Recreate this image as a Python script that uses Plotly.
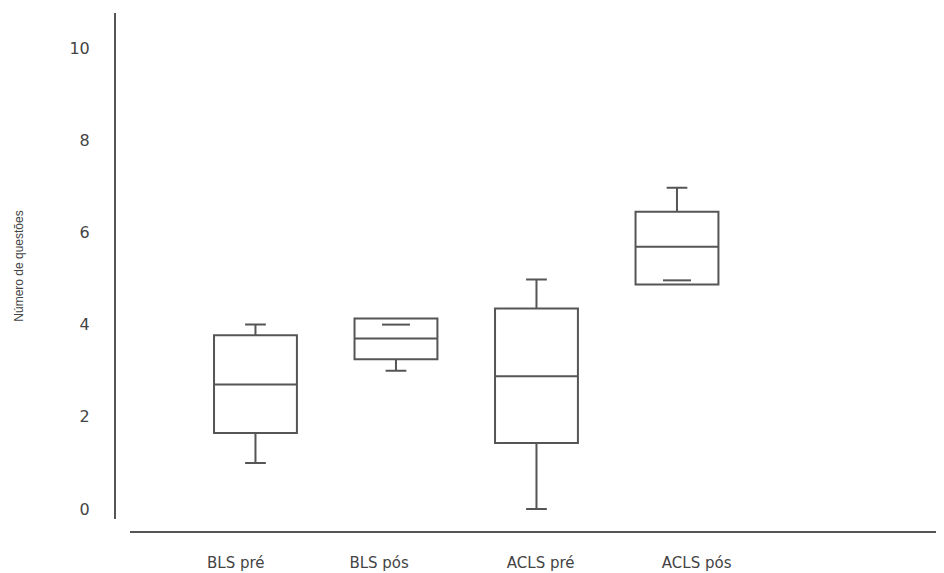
import plotly.graph_objects as go

categories = ["BLS pré", "BLS pós", "ACLS pré", "ACLS pós"]
q1 = [1.65, 3.25, 1.43, 4.87]
median = [2.7, 3.7, 2.88, 5.69]
q3 = [3.77, 4.13, 4.35, 6.45]
lowerfence = [1.0, 3.0, 0.0, 4.96]
upperfence = [4.0, 4.0, 4.98, 6.97]
y_ticks = [0, 2, 4, 6, 8, 10]

# label offsets relative to the box centres (as in the reference)
label_offsets = [-0.14, -0.12, 0.03, 0.14]

positions = list(range(len(categories)))
line_col = "#555555"
text_col = "#444444"

fig = go.Figure()
fig.add_trace(go.Box(
    x=positions, q1=q1, median=median, q3=q3,
    lowerfence=lowerfence, upperfence=upperfence,
    width=0.59, whiskerwidth=0.25,
    fillcolor="rgba(0,0,0,0)",
    line=dict(color=line_col, width=2),
    boxpoints=False, showlegend=False, hoverinfo="skip",
))

# whisker ends that fall inside the box are drawn as short caps
inner_x, inner_y = [], []
for p, lo, hi, a, b in zip(positions, lowerfence, upperfence, q1, q3):
    if hi < b:
        inner_x.append(p); inner_y.append(hi)
    if lo > a:
        inner_x.append(p); inner_y.append(lo)
fig.add_trace(go.Scatter(
    x=inner_x, y=inner_y, mode="markers",
    marker=dict(symbol="line-ew", size=20, line=dict(color=line_col, width=2)),
    showlegend=False, hoverinfo="skip",
))

# the page body has an 8px margin
W, H = 936, 565
ml, mr, mt, mb = 107, 4, 5, 41
pw, ph = W - ml - mr, H - mt - mb

fig.update_layout(
    width=W, height=H,
    margin=dict(l=ml, r=mr, t=mt, b=mb, autoexpand=False),
    plot_bgcolor="white", paper_bgcolor="white",
    xaxis=dict(
        domain=[15 / pw, 1], range=[-0.893, 4.872],
        tickvals=[p + o for p, o in zip(positions, label_offsets)],
        ticktext=categories,
        showgrid=False, zeroline=False, showline=True,
        linecolor=line_col, linewidth=2, ticks="",
        anchor="free", position=0, automargin=False,
        tickfont=dict(family="DejaVu Sans", size=15, color=text_col),
        ticklabelstandoff=17,
    ),
    yaxis=dict(
        domain=[13 / ph, 1], range=[-0.217, 10.76],
        tickvals=y_ticks,
        showgrid=False, zeroline=False, showline=True,
        linecolor=line_col, linewidth=2, ticks="",
        anchor="free", position=0, automargin=False,
        tickfont=dict(family="DejaVu Sans", size=16, color=text_col),
        ticklabelstandoff=21,
        title=dict(text="Número de questões",
                   font=dict(family="Liberation Sans", size=12, color=text_col),
                   standoff=42),
    ),
)
fig.write_html("out.html")
